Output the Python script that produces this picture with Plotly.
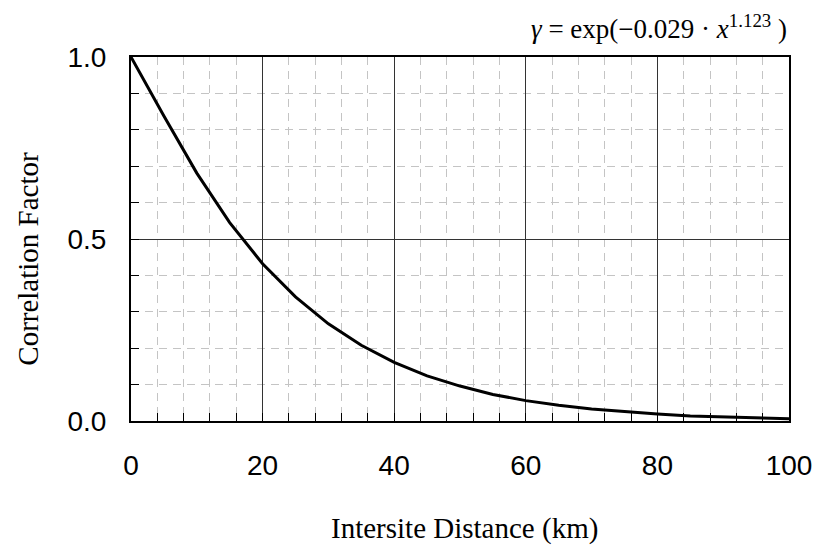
import plotly.graph_objects as go

distance_km = [0, 5, 10, 15, 20, 25, 30, 35, 40, 45, 50, 55, 60, 65, 70, 75, 80, 85, 90, 95, 100]
correlation = [1.0, 0.838, 0.681, 0.545, 0.432, 0.341, 0.267, 0.208, 0.161, 0.124, 0.096,
               0.073, 0.056, 0.043, 0.033, 0.025, 0.019, 0.014, 0.011, 0.008, 0.006]

x_ticks = [0, 20, 40, 60, 80, 100]
y_ticks = [0.0, 0.5, 1.0]
y_tick_labels = ["0.0", "0.5", "1.0"]

x_title = "Intersite Distance (km)"
y_title = "Correlation Factor"
equation = "<i>γ</i> = exp(−0.029 · <i>x</i><sup>1.123</sup> )"

fig = go.Figure()
fig.add_trace(go.Scatter(x=distance_km, y=correlation, mode="lines",
                         line=dict(color="black", width=3), showlegend=False,
                         hoverinfo="skip"))

tick_font = dict(family="Liberation Sans, Arial, sans-serif", size=28, color="black")
serif = "Liberation Serif, Times New Roman, serif"

fig.update_xaxes(range=[0, 100], tickvals=x_ticks, ticktext=[str(v) for v in x_ticks],
                 showline=True, mirror=True, linecolor="black", linewidth=2,
                 ticks="inside", ticklen=8, tickcolor="black", tickwidth=1,
                 showgrid=True, gridcolor="#333333", gridwidth=1,
                 zeroline=False, tickfont=tick_font, ticklabelstandoff=18,
                 minor=dict(dtick=4, tick0=0, ticks="inside", ticklen=8, tickcolor="black",
                            showgrid=True, gridcolor="#c4c4c4", gridwidth=1, griddash="8px,6px"))
fig.update_yaxes(range=[0, 1], tickvals=y_ticks, ticktext=y_tick_labels,
                 showline=True, mirror=True, linecolor="black", linewidth=2,
                 ticks="inside", ticklen=8, tickcolor="black", tickwidth=1,
                 showgrid=True, gridcolor="#333333", gridwidth=1,
                 zeroline=False, tickfont=tick_font, ticklabelstandoff=17,
                 minor=dict(dtick=0.1, tick0=0, ticks="inside", ticklen=8, tickcolor="black",
                            showgrid=True, gridcolor="#c4c4c4", gridwidth=1, griddash="8px,6px"))

fig.add_annotation(text=x_title, xref="paper", yref="paper", x=0.507, y=-0.294,
                   yanchor="middle", xanchor="center", showarrow=False,
                   font=dict(family=serif, size=29, color="black"))
fig.add_annotation(text=y_title, xref="paper", yref="paper", x=-0.157, y=0.445,
                   xanchor="center", yanchor="middle", showarrow=False, textangle=-90,
                   font=dict(family=serif, size=29, color="black"))
fig.add_annotation(text=equation, xref="paper", yref="paper", x=1.0, y=1.03,
                   xanchor="right", yanchor="bottom", showarrow=False,
                   font=dict(family=serif, size=27, color="black"))

# page body has an 8px margin, so the figure is offset by 8px inside the window
fig.update_layout(width=816, height=541, plot_bgcolor="white", paper_bgcolor="white",
                  margin=dict(l=123, r=29, t=49, b=128))

fig.write_html("out.html")
